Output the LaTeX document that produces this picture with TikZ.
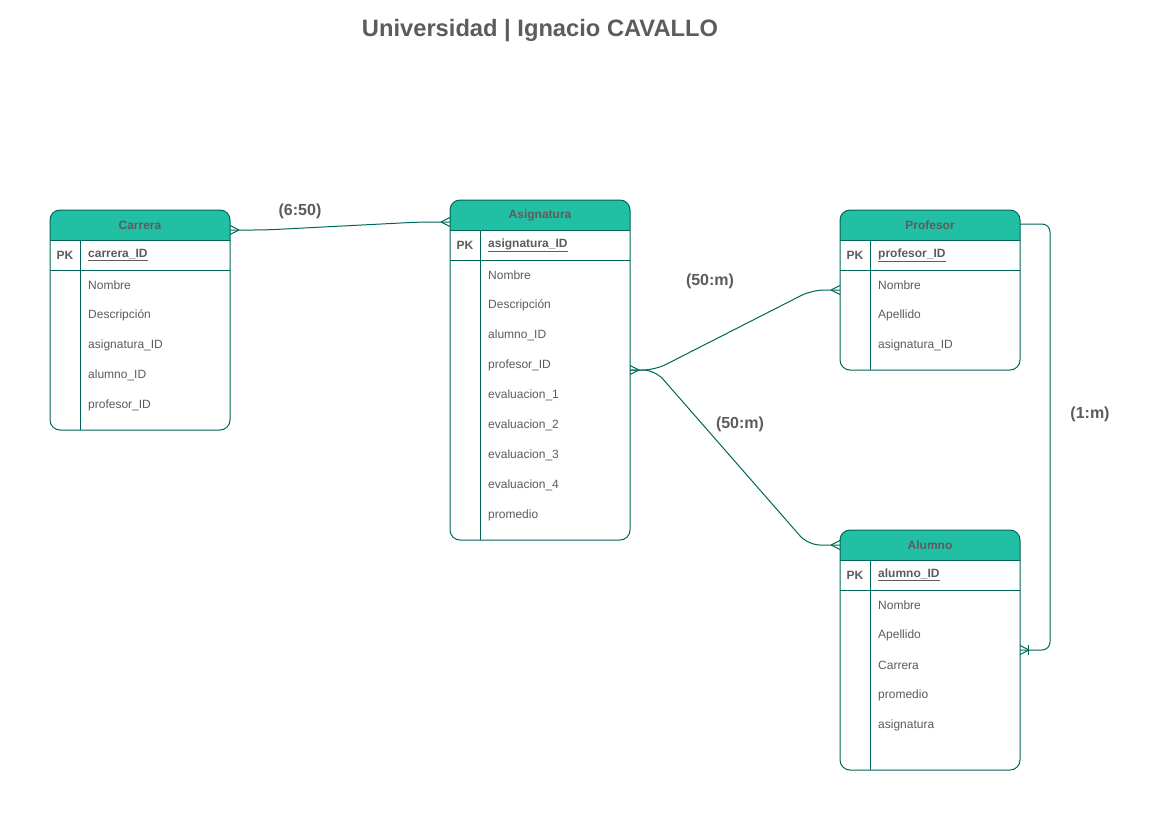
\documentclass[tikz,border=0pt]{standalone}
\usepackage{fontspec}
\setmainfont{Liberation Sans}
\usetikzlibrary{calc}
\definecolor{hd}{HTML}{21C0A5}
\definecolor{ln}{HTML}{006658}
\definecolor{tx}{HTML}{5C5C5C}
\tikzset{
  tbl/.style={draw=ln, line width=1pt, rounded corners=10pt, minimum width=180pt, inner sep=0pt, outer sep=0pt},
  sepline/.style={draw=ln, line width=1pt},
  headtxt/.style={text=tx, font=\fontsize{12}{14}\selectfont\bfseries, inner sep=0pt},
  pktxt/.style={text=tx, font=\fontsize{12}{14}\selectfont\bfseries, inner sep=0pt},
  fieldtxt/.style={text=tx, anchor=west, font=\fontsize{12}{14}\selectfont, inner sep=0pt},
  rel/.style={draw=ln, line width=1pt, rounded corners=12pt},
  foot/.style={draw=ln, line width=1pt},
  card/.style={text=tx, font=\fontsize{16}{18}\selectfont\bfseries, inner sep=0pt},
  titletxt/.style={text=tx, font=\fontsize{23.7}{26}\selectfont\bfseries, inner sep=0pt}
}
\newcommand\ertable[7]{%
  \begin{scope}
    \clip (#2,#3) rectangle ++(180,30);
    \fill[hd, rounded corners=10pt] (#2,#3) rectangle ++(180,60);
  \end{scope}
  \node[tbl, minimum height=#4pt, anchor=north west] (#1) at (#2,#3) {};
  \node[headtxt] (#1-title) at ($(#1.north)+(0,15)$) {#5};
  \draw[sepline] ($(#1.north west)+(0,30)$) -- ($(#1.north east)+(0,30)$);
  \draw[sepline] ($(#1.north west)+(0,60)$) -- ($(#1.north east)+(0,60)$);
  \draw[sepline] ($(#1.north west)+(30,30)$) -- ($(#1.south west)+(30,0)$);
  \node[pktxt] (#1-pk) at ($(#1.north west)+(15,45)$) {PK};
  \node[fieldtxt, font=\fontsize{12}{14}\selectfont\bfseries] (#1-key) at ($(#1.north west)+(38,45)$) {\underline{#6}};
  \foreach \f [count=\i] in {#7} {
    \node[fieldtxt] (#1-\i) at ($(#1.north west)+(38,45+30*\i)$) {\f};
  }
}
\newcommand\crowR[1]{%
  \draw[foot] ($(#1)+(9,0)$) -- ($(#1)+(0,-4.5)$);
  \draw[foot] ($(#1)+(9,0)$) -- ($(#1)+(0,4.5)$);
}
\newcommand\crowL[1]{%
  \draw[foot] ($(#1)+(-9,0)$) -- ($(#1)+(0,-4.5)$);
  \draw[foot] ($(#1)+(-9,0)$) -- ($(#1)+(0,4.5)$);
}
\begin{document}
\begin{tikzpicture}[x=1pt,y=-1pt]
\useasboundingbox (0,0) rectangle (1169,827);
\fill[white] (0,0) rectangle (1169,827);

\node[titletxt] (title) at (540,31) {Universidad | Ignacio CAVALLO};

\ertable{carrera}{50}{210}{220}{Carrera}{carrera\_ID}{Nombre,Descripción,asignatura\_ID,alumno\_ID,profesor\_ID}
\ertable{asignatura}{450}{200}{340}{Asignatura}{asignatura\_ID}{Nombre,Descripción,alumno\_ID,profesor\_ID,evaluacion\_1,evaluacion\_2,evaluacion\_3,evaluacion\_4,promedio}
\ertable{profesor}{840}{210}{160}{Profesor}{profesor\_ID}{Nombre,Apellido,asignatura\_ID}
\ertable{alumno}{840}{530}{240}{Alumno}{alumno\_ID}{Nombre,Apellido,Carrera,promedio,asignatura}

\coordinate (carR) at ($(carrera.north east)+(0,20)$);
\coordinate (asiL) at ($(asignatura.north west)+(0,22)$);
\coordinate (asiR) at ($(asignatura.north east)+(0,170)$);
\coordinate (proL) at ($(profesor.north west)+(0,80)$);
\coordinate (aluL) at ($(alumno.north west)+(0,15)$);
\coordinate (proR) at ($(profesor.north east)+(0,14)$);
\coordinate (aluR) at ($(alumno.north east)+(0,120)$);

\draw[rel] (carR) -- ($(carR)+(35,0)$) -- ($(asiL)+(-30,0)$) -- (asiL);
\draw[rel] (asiR) -- ($(asiR)+(25,0)$) -- ($(proL)+(-28,0)$) -- (proL);
\draw[rel] (asiR) -- ($(asiR)+(25,0)$) -- ($(aluL)+(-32,0)$) -- (aluL);
\draw[rel, rounded corners=8pt] (proR) -- ($(proR)+(30,0)$) -- ($(aluR)+(30,0)$) -- (aluR);

\crowR{carR}
\crowL{asiL}
\crowR{asiR}
\crowL{proL}
\crowL{aluL}
\crowR{aluR}
\draw[foot] ($(aluR)+(8,-5)$) -- ($(aluR)+(8,5)$);

\node[card] (l1) at (300,211) {(6:50)};
\node[card] (l2) at (710,281) {(50:m)};
\node[card] (l3) at (740,424) {(50:m)};
\node[card] (l4) at (1090,414) {(1:m)};
\end{tikzpicture}
\end{document}
